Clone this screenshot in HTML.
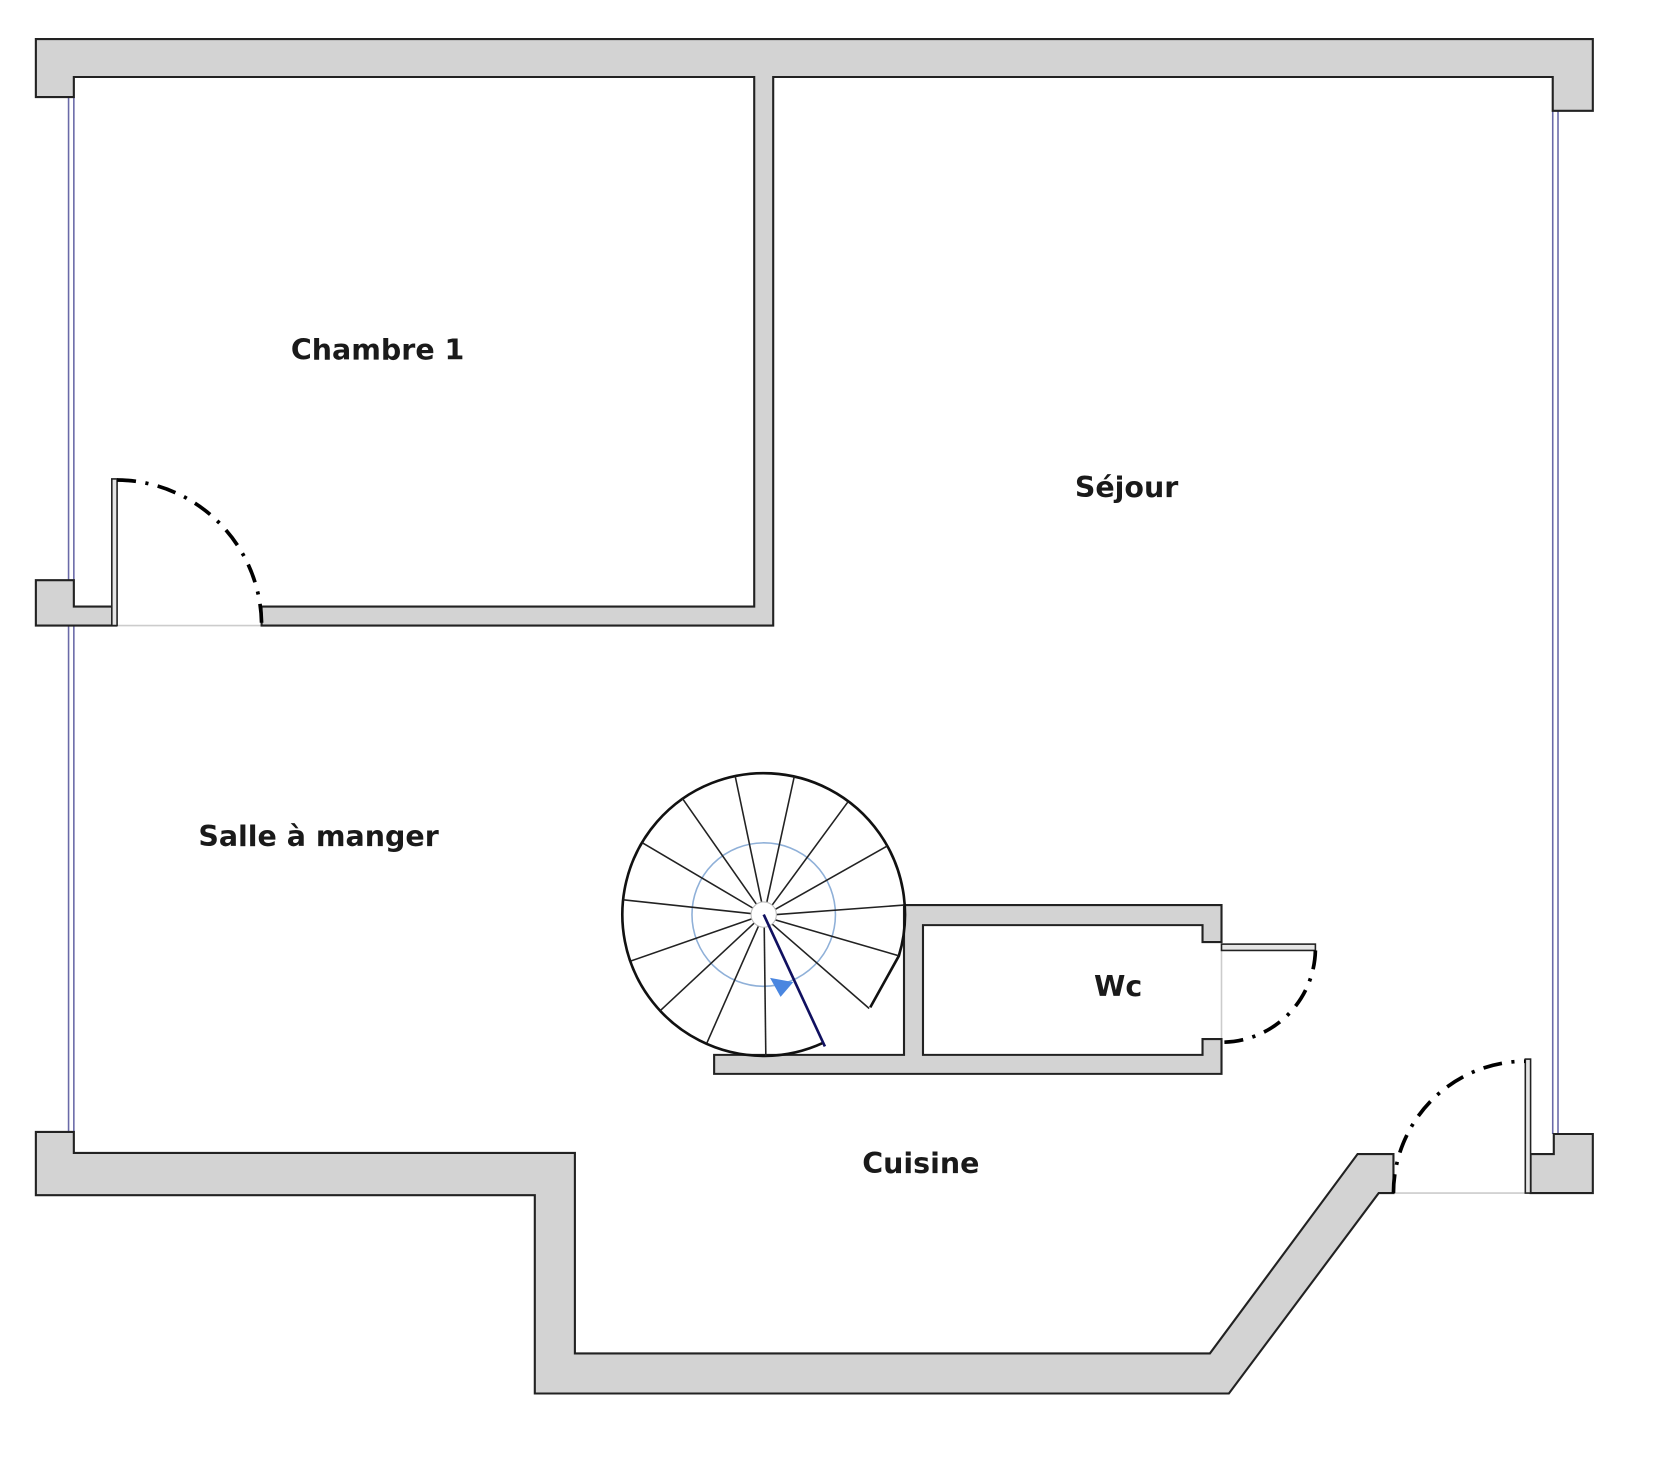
<!DOCTYPE html>
<html><head><meta charset="utf-8"><style>
html,body{margin:0;padding:0;background:#fff;}
svg{display:block;}
text{font-family:"DejaVu Sans","Liberation Sans",sans-serif;font-weight:bold;font-size:27px;fill:#1a1a1a;text-anchor:middle;}
</style></head><body>
<svg width="1654" height="1480" viewBox="0 0 1568 1403" preserveAspectRatio="none" xmlns="http://www.w3.org/2000/svg">
<rect width="1568" height="1403" fill="#fff"/>
<g stroke="#6a6aa8" stroke-width="1.5" fill="none">
<line x1="65" y1="92" x2="65" y2="550"/><line x1="70" y1="92" x2="70" y2="550"/>
<line x1="65" y1="593" x2="65" y2="1073"/><line x1="70" y1="593" x2="70" y2="1073"/>
<line x1="1472" y1="105" x2="1472" y2="1075"/><line x1="1477" y1="105" x2="1477" y2="1075"/>
</g>
<g stroke="#ccc" stroke-width="1.5">
<line x1="110" y1="593" x2="248" y2="593"/>
<line x1="1321" y1="1131" x2="1446" y2="1131"/>
<line x1="1158" y1="893" x2="1158" y2="985"/>
</g>
<g fill="#d3d3d3" stroke="#222" stroke-width="2" stroke-linejoin="miter">
<polygon points="34,37 1510,37 1510,105 1472,105 1472,73 733,73 733,593 248,593 248,575 715,575 715,73 70,73 70,92 34,92"/>
<polygon points="34,550 70,550 70,575 110,575 110,593 34,593"/>
<polygon points="34,1073 70,1073 70,1093 545,1093 545,1283 1147,1283 1287,1094 1321,1094 1321,1131 1307,1131 1165,1321 507,1321 507,1133 34,1133"/>
<polygon points="1451,1094 1473,1094 1473,1075 1510,1075 1510,1131 1451,1131"/>
<polygon points="857,858 1158,858 1158,893 1140,893 1140,877 875,877 875,1000 1140,1000 1140,985 1158,985 1158,1018 677,1018 677,1000 857,1000"/>
</g>
<g fill="#e6e6e6" stroke="#222" stroke-width="1.5">
<rect x="106" y="454" width="5" height="139"/>
<rect x="1446" y="1004" width="5" height="127"/>
<rect x="1158" y="895" width="89" height="6"/>
</g>
<g fill="none" stroke="#000" stroke-width="3.5" stroke-dasharray="18 9 3 9">
<path d="M111,455 A138,138 0 0 1 248,593"/>
<path d="M1321,1131 A125,125 0 0 1 1446,1006"/>
<path d="M1247,901 A89,89 0 0 1 1158,988"/>
</g>
<g transform="translate(724,867)">
<circle r="68" fill="none" stroke="#8fb0d8" stroke-width="1.5"/>
<path d="M56.6,121.4 A134,134 0 1 1 128.1,39.2 L101,88" fill="none" stroke="#111" stroke-width="2.5"/>
</g>
<g transform="translate(724,867)" stroke="#222" stroke-width="1.5">
<line x1="0.5" y1="12" x2="2" y2="134"/>
<line x1="-5" y1="11" x2="-54" y2="122"/>
<line x1="-9" y1="8" x2="-98" y2="91"/>
<line x1="-11" y1="4" x2="-126" y2="44"/>
<line x1="-12" y1="-1" x2="-133" y2="-14"/>
<line x1="-10" y1="-6" x2="-115" y2="-68"/>
<line x1="-7" y1="-10" x2="-77" y2="-110"/>
<line x1="-2" y1="-12" x2="-27" y2="-131"/>
<line x1="3" y1="-12" x2="29" y2="-131"/>
<line x1="8" y1="-9" x2="80" y2="-107"/>
<line x1="11" y1="-5" x2="117" y2="-65"/>
<line x1="12" y1="0" x2="133" y2="-9"/>
<line x1="11" y1="5" x2="128" y2="39"/>
<line x1="8" y1="9" x2="100" y2="89"/>
</g>
<g transform="translate(724,867)">
<circle r="12" fill="#fff" stroke="#bbb" stroke-width="1"/>
<line x1="0" y1="0" x2="58" y2="125" stroke="#101060" stroke-width="2.5"/>
<polygon points="6,60 28,64 16,78" fill="#4a86e0"/>
</g>
<text x="358" y="341">Chambre 1</text>
<text x="1068" y="471">Séjour</text>
<text x="302" y="802">Salle à manger</text>
<text x="1060" y="944">Wc</text>
<text x="873" y="1112">Cuisine</text>
</svg>
</body></html>
